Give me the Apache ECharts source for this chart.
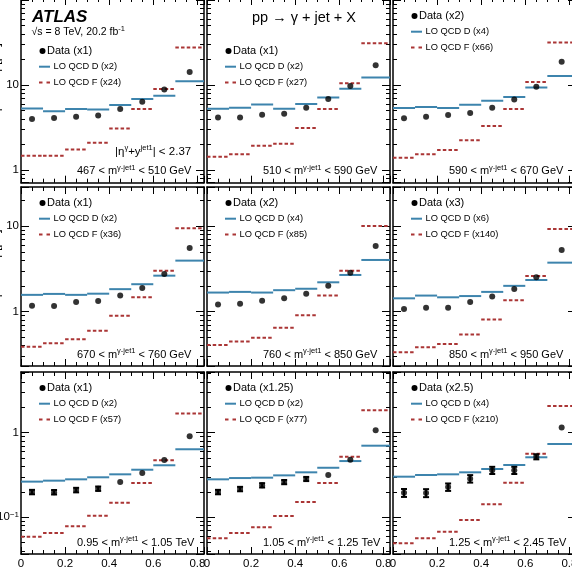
<!DOCTYPE html>
<html>
<head>
<meta charset="utf-8">
<script src="https://cdn.jsdelivr.net/npm/echarts@6/dist/echarts.min.js"></script>
<style>
  html, body { margin: 0; padding: 0; background: #fff; }
  #chart { width: 572px; height: 572px; }
</style>
</head>
<body>
<div id="chart"></div>
<script>
// |cos theta*| binning
const binEdges = [0, 0.1, 0.2, 0.3, 0.4, 0.5, 0.6, 0.7, 0.83];
const binCenters = [0.05, 0.15, 0.25, 0.35, 0.45, 0.55, 0.65, 0.765];

const massLo = ['467', '510', '590', '670', '760', '850', '0.95', '1.05', '1.25'];
const massHi = ['510', '590', '670', '760', '850', '950', '1.05', '1.25', '2.45'];
const massUnit = ['GeV', 'GeV', 'GeV', 'GeV', 'GeV', 'GeV', 'TeV', 'TeV', 'TeV'];
const dataScale = ['x1', 'x1', 'x2', 'x1', 'x2', 'x3', 'x1', 'x1.25', 'x2.5'];
const dScale = ['x2', 'x2', 'x4', 'x2', 'x4', 'x6', 'x2', 'x2', 'x4'];
const fScale = ['x24', 'x27', 'x66', 'x36', 'x85', 'x140', 'x57', 'x77', 'x210'];

const data1 = [3.98, 4.09, 4.24, 4.40, 5.22, 6.36, 8.9, 14.3];
const qcdD1 = [5.32, 4.94, 5.22, 5.18, 5.82, 6.85, 7.48, 11.1];
const qcdF1 = [1.47, 1.47, 1.75, 2.10, 3.09, 5.22, 8.97, 27.8];

const data2 = [4.17, 4.17, 4.47, 4.59, 5.41, 6.84, 9.73, 17.1];
const qcdD2 = [5.26, 5.41, 5.93, 5.26, 5.98, 7.17, 9.04, 12.3];
const qcdF2 = [1.43, 1.54, 1.93, 2.04, 3.12, 5.22, 10.5, 31.0];

const data3 = [4.06, 4.24, 4.44, 4.69, 5.41, 6.78, 9.55, 18.8];
const qcdD3 = [5.36, 5.51, 5.36, 5.86, 6.53, 7.22, 9.4, 12.8];
const qcdF3 = [1.40, 1.54, 1.72, 2.25, 3.29, 5.22, 10.9, 31.8];

const data4 = [1.175, 1.166, 1.30, 1.33, 1.54, 1.89, 2.75, 5.54];
const qcdD4 = [1.57, 1.61, 1.57, 1.62, 1.83, 2.09, 2.63, 3.94];
const qcdF4 = [0.39, 0.428, 0.476, 0.60, 0.898, 1.47, 3.01, 9.4];

const data5 = [1.21, 1.24, 1.34, 1.43, 1.62, 2.0, 2.85, 5.84];
const qcdD5 = [1.67, 1.70, 1.67, 1.78, 1.85, 2.2, 2.68, 4.01];
const qcdF5 = [0.408, 0.447, 0.497, 0.65, 0.908, 1.54, 3.01, 10.0];

const data6 = [1.07, 1.11, 1.11, 1.30, 1.50, 1.84, 2.52, 5.25];
const qcdD6 = [1.43, 1.54, 1.47, 1.52, 1.70, 2.0, 2.34, 3.73];
const qcdF6 = [0.336, 0.385, 0.42, 0.54, 0.807, 1.36, 2.61, 9.23];

const data7 = [0.199, 0.198, 0.21, 0.218, 0.261, 0.334, 0.475, 0.906];
const qcdD7 = [0.264, 0.271, 0.281, 0.297, 0.322, 0.365, 0.412, 0.637];
const qcdF7 = [0.059, 0.0652, 0.0783, 0.1045, 0.149, 0.254, 0.472, 1.69];
const err7 = [0.012, 0.012, 0.013, 0.013, 0, 0, 0, 0];

const data8 = [0.199, 0.216, 0.239, 0.261, 0.284, 0.316, 0.48, 1.07];
const qcdD8 = [0.281, 0.291, 0.294, 0.313, 0.34, 0.385, 0.462, 0.702];
const qcdF8 = [0.0565, 0.0652, 0.0762, 0.1035, 0.152, 0.254, 0.52, 1.84];
const err8 = [0.012, 0.013, 0.014, 0.015, 0.016, 0, 0, 0];

const data9 = [0.195, 0.194, 0.228, 0.286, 0.36, 0.36, 0.52, 1.15];
const qcdD9 = [0.302, 0.316, 0.322, 0.34, 0.372, 0.415, 0.512, 0.735];
const qcdF9 = [0.0493, 0.0565, 0.0676, 0.093, 0.1425, 0.256, 0.565, 2.07];
const err9 = [0.021, 0.021, 0.023, 0.029, 0.035, 0.035, 0.036, 0];

const panels = [
  { data: data1, qcdD: qcdD1, qcdF: qcdF1, err: null },
  { data: data2, qcdD: qcdD2, qcdF: qcdF2, err: null },
  { data: data3, qcdD: qcdD3, qcdF: qcdF3, err: null },
  { data: data4, qcdD: qcdD4, qcdF: qcdF4, err: null },
  { data: data5, qcdD: qcdD5, qcdF: qcdF5, err: null },
  { data: data6, qcdD: qcdD6, qcdF: qcdF6, err: null },
  { data: data7, qcdD: qcdD7, qcdF: qcdF7, err: err7 },
  { data: data8, qcdD: qcdD8, qcdF: qcdF8, err: err8 },
  { data: data9, qcdD: qcdD9, qcdF: qcdF9, err: err9 },
];

// layout
const FONT = '"Liberation Sans", Arial, Helvetica, sans-serif';
const BLUE = '#3d84ad';
const RED = '#aa3535';
const colLeft = [21, 207, 393];
const panelWidth = 183;
const rowTop = [-2, 187, 372];
const rowBottom = [182.7, 366, 554];
const yMin = [0.71, 0.232, 0.0368];
const yMax = [106, 28.5, 5.22];
const legendY = [51, 51, 16, 203, 203, 203, 388, 388, 388];

const supRich = {
  s: { fontSize: 7.5, lineHeight: 8, verticalAlign: 'top', fontFamily: FONT, fill: '#000', color: '#000' }
};

const chart = echarts.init(document.getElementById('chart'));

const grids = [];
const xAxes = [];
const yAxes = [];
const series = [];
const graphics = [];

const lineCommon = { show: true, onZero: false, lineStyle: { color: '#000', width: 1.5 } };

const xAxisFor = (i, pos) => ({
  type: 'value', gridIndex: i, position: pos, min: 0, max: 0.83, interval: 0.2,
  axisLine: lineCommon,
  axisTick: { show: true, inside: true, length: 7, lineStyle: { color: '#000', width: 1 } },
  minorTick: { show: true, splitNumber: 4, length: 4, lineStyle: { color: '#000', width: 1 } },
  splitLine: { show: false },
  axisLabel: {
    show: pos === 'bottom' && i >= 6, showMaxLabel: false, margin: 4,
    color: '#000', fontSize: 11.5, fontFamily: FONT
  }
});

const yAxisFor = (i, pos) => {
  const row = Math.floor(i / 3);
  const labelled = pos === 'left' && i % 3 === 0;
  return {
    type: 'log', logBase: 10, gridIndex: i, position: pos, min: yMin[row], max: yMax[row],
    axisLine: lineCommon,
    axisTick: { show: true, inside: true, length: 8, lineStyle: { color: '#000', width: 1 } },
    minorTick: { show: true, splitNumber: 9, length: 4, lineStyle: { color: '#000', width: 1 } },
    splitLine: { show: false },
    axisLabel: {
      show: labelled, showMinLabel: false, showMaxLabel: false, margin: 2,
      color: '#000', fontSize: 11.5, fontFamily: FONT,
      formatter: v => (v > 50 ? '' : v < 0.5 ? '10{s|\u22121}' : String(Math.round(v))),
      rich: { s: { fontSize: 8, lineHeight: 8, verticalAlign: 'top', color: '#000', fontFamily: FONT } }
    },
    name: labelled ? 'd\u03c3/d|cos \u03b8*| [pb]' : '',
    nameLocation: 'middle', nameGap: 17,
    nameTextStyle: { color: '#000', fontSize: 13, fontFamily: FONT }
  };
};

const stepItem = (color, dash) => (params, api) => {
  const a = api.coord([api.value(0), api.value(2)]);
  const b = api.coord([api.value(1), api.value(2)]);
  return {
    type: 'line',
    shape: { x1: a[0], y1: a[1], x2: b[0], y2: b[1] },
    style: { stroke: color, lineWidth: 2, lineDash: dash }
  };
};

const errItem = (params, api) => {
  const top = api.coord([api.value(0), api.value(2)]);
  const bot = api.coord([api.value(0), api.value(3)]);
  const st = { stroke: '#000', lineWidth: 2 };
  return {
    type: 'group',
    children: [
      { type: 'line', shape: { x1: top[0], y1: top[1], x2: bot[0], y2: bot[1] }, style: st },
      { type: 'line', shape: { x1: top[0] - 3, y1: top[1], x2: top[0] + 3, y2: top[1] }, style: st },
      { type: 'line', shape: { x1: bot[0] - 3, y1: bot[1], x2: bot[0] + 3, y2: bot[1] }, style: st }
    ]
  };
};

const txt = (x, y, text, size, extra) => ({
  type: 'text', x: x, y: y, silent: true, z: 100,
  style: Object.assign({
    text: text, fill: '#000', fontSize: size, fontFamily: FONT, lineHeight: size + 4,
    align: 'left', verticalAlign: 'middle', textAlign: 'left', textVerticalAlign: 'middle',
    rich: supRich
  }, extra || {})
});

panels.forEach((p, i) => {
  const row = Math.floor(i / 3);
  const col = i % 3;
  const L = colLeft[col];
  const T = rowTop[row];
  const B = rowBottom[row];

  grids.push({ left: L, top: T, width: panelWidth, height: B - T, outerBoundsMode: 'none', containLabel: false });
  xAxes.push(xAxisFor(i, 'bottom'), xAxisFor(i, 'top'));
  yAxes.push(yAxisFor(i, 'left'), yAxisFor(i, 'right'));

  const bins = vals => vals.map((v, k) => [binEdges[k], binEdges[k + 1], v]);

  series.push({
    type: 'custom', xAxisIndex: 2 * i, yAxisIndex: 2 * i, clip: true, silent: true, z: 2,
    renderItem: stepItem(RED, [3.5, 2.2]), encode: { x: [0, 1], y: 2 }, data: bins(p.qcdF)
  });
  series.push({
    type: 'custom', xAxisIndex: 2 * i, yAxisIndex: 2 * i, clip: true, silent: true, z: 3,
    renderItem: stepItem(BLUE, null), encode: { x: [0, 1], y: 2 }, data: bins(p.qcdD)
  });
  if (p.err) {
    series.push({
      type: 'custom', xAxisIndex: 2 * i, yAxisIndex: 2 * i, clip: true, silent: true, z: 4,
      renderItem: errItem, encode: { x: 0, y: [1, 2, 3] },
      data: binCenters.map((c, k) => [c, p.data[k], p.data[k] + p.err[k], p.data[k] - p.err[k]])
        .filter((d, k) => p.err[k] > 0)
    });
  }
  series.push({
    type: 'scatter', xAxisIndex: 2 * i, yAxisIndex: 2 * i, silent: true, z: 5,
    symbol: 'circle', symbolSize: 6, itemStyle: { color: '#000' },
    data: binCenters.map((c, k) => [c, p.data[k]])
  });

  // legend block
  const ly = legendY[i];
  const dy = 15.7;
  graphics.push({ type: 'circle', shape: { cx: L + 21.5, cy: ly, r: 3 }, style: { fill: '#000' }, z: 100, silent: true });
  graphics.push(txt(L + 26, ly, 'Data (' + dataScale[i] + ')', 11));
  graphics.push({ type: 'line', shape: { x1: L + 18, y1: ly + dy, x2: L + 29, y2: ly + dy }, style: { stroke: BLUE, lineWidth: 2 }, z: 100, silent: true });
  graphics.push(txt(L + 32.5, ly + dy, 'LO QCD D (' + dScale[i] + ')', 9.3));
  graphics.push({ type: 'line', shape: { x1: L + 18, y1: ly + 2 * dy, x2: L + 29.5, y2: ly + 2 * dy }, style: { stroke: RED, lineWidth: 2, lineDash: [3.5, 4] }, z: 100, silent: true });
  graphics.push(txt(L + 32.5, ly + 2 * dy, 'LO QCD F (' + fScale[i] + ')', 9.3));

  // mass window
  graphics.push(txt(L + 56, B - 11.5, massLo[i] + ' < m{s|\u03b3-jet1} < ' + massHi[i] + ' ' + massUnit[i], 11));
});

graphics.push(txt(32, 17, 'ATLAS', 17, { fontWeight: 'bold', fontStyle: 'italic' }));
graphics.push(txt(31.5, 32, '\u221as = 8 TeV, 20.2 fb{s|-1}', 10.5));
graphics.push(txt(252, 18, 'pp \u2192 \u03b3 + jet + X', 14.5));
graphics.push(txt(115, 151.7, '|\u03b7{s|\u03b3}+y{s|jet1}| < 2.37', 11.5));

chart.setOption({
  animation: false,
  backgroundColor: '#fff',
  grid: grids,
  xAxis: xAxes,
  yAxis: yAxes,
  series: series,
  graphic: { elements: graphics }
});
</script>
</body>
</html>
